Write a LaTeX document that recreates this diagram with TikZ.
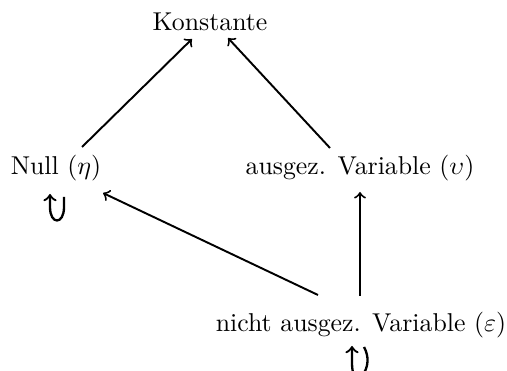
\documentclass[tikz,border=0pt]{standalone}
\begin{document}
\begin{tikzpicture}[x=0.3876pt,y=-0.3876pt,
  lbl/.style={inner sep=0pt},
  arr/.style={->,line width=0.75pt},
  selfloop/.style={->,line width=0.9pt}]
\useasboundingbox (0,0) rectangle (507,371);
\clip (0,0) rectangle (507,371);
\node[lbl] (k) at (210,22) {Konstante};
\node[lbl] (n) at (56,168) {Null ($\eta$)};
\node[lbl] (a) at (360,168) {ausgez. Variable ($\upsilon$)};
\node[lbl] (v) at (361,325) {nicht ausgez. Variable ($\varepsilon$)};
\coordinate (n1) at (64,197);
\coordinate (n2) at (50,194);
\coordinate (v1) at (364,347);
\coordinate (v2) at (352,346);
\draw[arr] (82,147) -- (192,39);
\draw[arr] (330,148) -- (228,38);
\draw[arr] (360,296) -- (360,192);
\draw[arr] (318,295) -- (103,193);
\draw[selfloop] (n1) -- (64,207) .. controls (64,225) and (50,225) .. (50,207) -- (n2);
\draw[selfloop] (v1) .. controls (369,356) and (369,367) .. (362,376) .. controls (357,381) and (352,379) .. (352,362) -- (v2);
\end{tikzpicture}
\end{document}
